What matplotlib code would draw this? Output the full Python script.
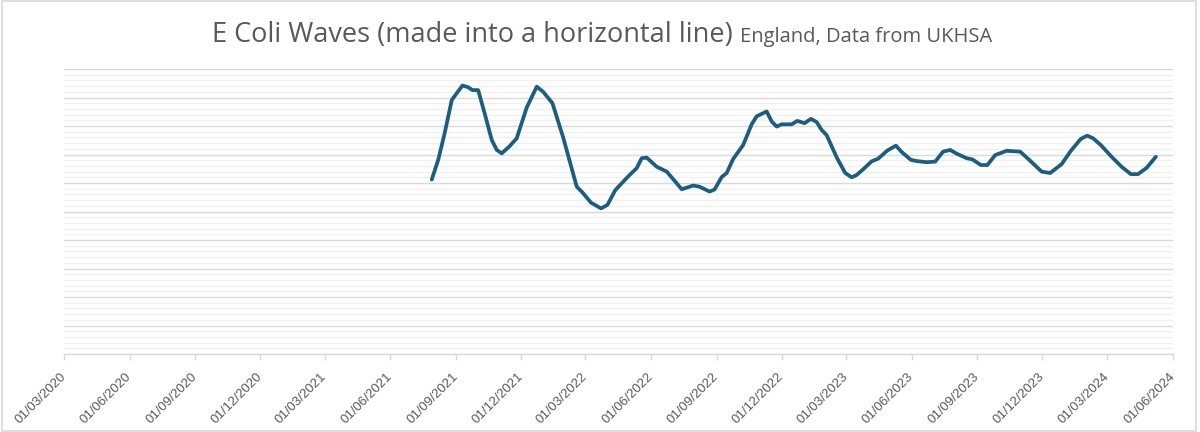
import matplotlib
matplotlib.use("Agg")
import matplotlib.pyplot as plt
import matplotlib.dates as mdates
from matplotlib.patches import Rectangle
from matplotlib.ticker import MultipleLocator
import pandas as pd

# data (y is an unlabelled 0-10 scale)
dates = [
    "2021-07-29", "2021-08-07", "2021-08-16", "2021-08-26", "2021-09-02", "2021-09-10",
    "2021-09-18", "2021-09-24", "2021-10-02", "2021-10-11", "2021-10-21", "2021-10-28",
    "2021-11-04", "2021-11-15", "2021-11-25", "2021-12-09", "2021-12-23", "2022-01-01",
    "2022-01-14", "2022-01-29", "2022-02-17", "2022-02-25", "2022-03-09", "2022-03-23",
    "2022-04-01", "2022-04-12", "2022-04-21", "2022-05-02", "2022-05-12", "2022-05-19",
    "2022-05-26", "2022-06-09", "2022-06-23", "2022-07-04", "2022-07-14", "2022-07-30",
    "2022-08-08", "2022-08-22", "2022-08-29", "2022-09-08", "2022-09-15", "2022-09-24",
    "2022-10-08", "2022-10-20", "2022-10-27", "2022-11-10", "2022-11-17", "2022-11-24",
    "2022-12-01", "2022-12-15", "2022-12-23", "2023-01-02", "2023-01-11", "2023-01-19",
    "2023-01-26", "2023-02-02", "2023-02-16", "2023-02-28", "2023-03-09", "2023-03-16",
    "2023-03-26", "2023-04-06", "2023-04-15", "2023-04-28", "2023-05-10", "2023-05-18",
    "2023-05-31", "2023-06-08", "2023-06-22", "2023-07-04", "2023-07-15", "2023-07-25",
    "2023-08-03", "2023-08-17", "2023-08-25", "2023-09-06", "2023-09-15", "2023-09-26",
    "2023-10-12", "2023-10-31", "2023-11-14", "2023-11-30", "2023-12-12", "2023-12-28",
    "2024-01-10", "2024-01-24", "2024-02-02", "2024-02-10", "2024-02-21", "2024-03-07",
    "2024-03-21", "2024-04-03", "2024-04-13", "2024-04-25", "2024-05-08",
]
values = [
    6.12, 6.81, 7.74, 8.91, 9.15, 9.42,
    9.36, 9.26, 9.26, 8.45, 7.51, 7.16,
    7.04, 7.29, 7.57, 8.65, 9.38, 9.20,
    8.80, 7.60, 5.87, 5.67, 5.31, 5.11,
    5.23, 5.75, 5.99, 6.28, 6.52, 6.87,
    6.89, 6.57, 6.40, 6.08, 5.78, 5.91,
    5.87, 5.70, 5.77, 6.21, 6.35, 6.84,
    7.33, 8.06, 8.34, 8.51, 8.16, 7.98,
    8.06, 8.06, 8.18, 8.10, 8.25, 8.14,
    7.86, 7.68, 6.90, 6.35, 6.20, 6.28,
    6.50, 6.76, 6.85, 7.14, 7.31, 7.09,
    6.81, 6.77, 6.73, 6.75, 7.10, 7.16,
    7.03, 6.87, 6.83, 6.63, 6.63, 6.98,
    7.13, 7.10, 6.78, 6.40, 6.35, 6.66,
    7.13, 7.55, 7.66, 7.57, 7.33, 6.92,
    6.57, 6.31, 6.31, 6.53, 6.92,
]
title_main = "E Coli Waves (made into a horizontal line)"
title_sub = "England, Data from UKHSA"

x = pd.to_datetime(dates)
tick_dates = pd.date_range("2020-03-01", "2024-06-01", freq="3MS")

fig = plt.figure(figsize=(12, 4.32), dpi=100)
ax = fig.add_axes([64 / 1200, 1 - 354 / 432, 1109 / 1200, 285 / 432])

ax.plot(x, values, color="#1b5e80", lw=2.7, solid_joinstyle="round", solid_capstyle="round")

ax.set_xlim(pd.Timestamp("2020-03-01"), pd.Timestamp("2024-06-01"))
ax.set_ylim(0, 10)

# gridlines: majors darker, minors light
ax.yaxis.set_major_locator(MultipleLocator(1))
ax.yaxis.set_minor_locator(MultipleLocator(0.2))
ax.grid(axis="y", which="major", color="#d9d9d9", lw=1.0)
ax.grid(axis="y", which="minor", color="#f0f0f0", lw=1.0)
ax.set_axisbelow(True)
ax.tick_params(axis="y", which="both", left=False, labelleft=False)

ax.set_xticks(tick_dates)
ax.xaxis.set_major_formatter(mdates.DateFormatter("%d/%m/%Y"))
ax.tick_params(axis="x", direction="out", length=4, width=1, color="#d9d9d9",
               labelcolor="#595959", labelsize=9.5, pad=11)
for lab in ax.get_xticklabels():
    lab.set_rotation(45)
    lab.set_ha("right")
    lab.set_va("center")
    lab.set_rotation_mode("anchor")
    lab.set_family(["Liberation Sans", "DejaVu Sans"])

for s in ["top", "left", "right"]:
    ax.spines[s].set_visible(False)
ax.spines["bottom"].set_color("#d9d9d9")
ax.spines["bottom"].set_linewidth(1)

# title in two sizes, centred together
fam = ["Open Sans", "DejaVu Sans"]
t1 = fig.text(0, 0.903, title_main, fontsize=19.5, color="#595959", family=fam, va="baseline")
t2 = fig.text(0, 0.903, title_sub, fontsize=14.5, color="#595959", family=fam, va="baseline")
fig.canvas.draw()
r = fig.canvas.get_renderer()
w1 = t1.get_window_extent(r).width
w2 = t2.get_window_extent(r).width
gap = 8
start = 602 - (w1 + gap + w2) / 2
t1.set_x(start / 1200)
t2.set_x((start + w1 + gap) / 1200)

# light border round the chart
fig.patches.append(Rectangle((0.002, 0.003), 0.995, 0.994, transform=fig.transFigure,
                             fill=False, ec="#d9d9d9", lw=1.2))

fig.savefig("out.png", dpi=100, facecolor="white")
